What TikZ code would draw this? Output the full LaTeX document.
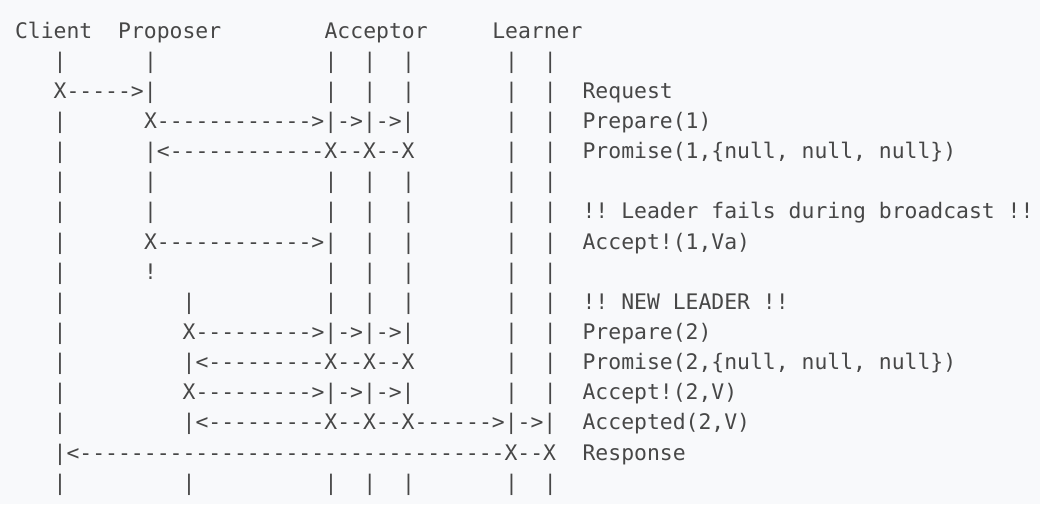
\documentclass[tikz,border=0pt]{standalone}
\usepackage{fontspec}
\setmonofont{DejaVu Sans Mono}
\definecolor{ink}{HTML}{474747}
\definecolor{bgc}{HTML}{F8F9FB}
\tikzset{txt/.style={anchor=base west, inner sep=0pt, outer sep=0pt, text=ink,
  font=\ttfamily\fontsize{21.4}{24}\selectfont}}
\newcommand\frag[3]{\node[txt] (r#2c#1) at ({15+12.9*#1},{-(30.13*(#2-1)+30+8.2)}) {#3};}
\begin{document}
\begin{tikzpicture}[x=1pt,y=1pt]
\fill[bgc] (0,0) rectangle (1040,-504);
\useasboundingbox (0,0) rectangle (1040,-504);
% header
\frag{0}{1}{Client}
\frag{8}{1}{Proposer}
\frag{24}{1}{Acceptor}
\frag{37}{1}{Learner}
% row 2
\foreach \c in {3,10,24,27,30,38,41} {\frag{\c}{2}{|}}
% row 3
\frag{3}{3}{X----->|}
\foreach \c in {24,27,30,38,41} {\frag{\c}{3}{|}}
\frag{44}{3}{Request}
% row 4
\frag{3}{4}{|}
\frag{10}{4}{X------------>|->|->|}
\foreach \c in {38,41} {\frag{\c}{4}{|}}
\frag{44}{4}{Prepare(1)}
% row 5
\frag{3}{5}{|}
\frag{10}{5}{|<------------X--X--X}
\foreach \c in {38,41} {\frag{\c}{5}{|}}
\frag{44}{5}{Promise(1,\{null, null, null\})}
% row 6
\foreach \c in {3,10,24,27,30,38,41} {\frag{\c}{6}{|}}
% row 7
\foreach \c in {3,10,24,27,30,38,41} {\frag{\c}{7}{|}}
\frag{44}{7}{!! Leader fails during broadcast !!}
% row 8
\frag{3}{8}{|}
\frag{10}{8}{X------------>|}
\foreach \c in {27,30,38,41} {\frag{\c}{8}{|}}
\frag{44}{8}{Accept!(1,Va)}
% row 9
\frag{3}{9}{|}
\frag{10}{9}{!}
\foreach \c in {24,27,30,38,41} {\frag{\c}{9}{|}}
% row 10
\foreach \c in {3,13,24,27,30,38,41} {\frag{\c}{10}{|}}
\frag{44}{10}{!! NEW LEADER !!}
% row 11
\frag{3}{11}{|}
\frag{13}{11}{X--------->|->|->|}
\foreach \c in {38,41} {\frag{\c}{11}{|}}
\frag{44}{11}{Prepare(2)}
% row 12
\frag{3}{12}{|}
\frag{13}{12}{|<---------X--X--X}
\foreach \c in {38,41} {\frag{\c}{12}{|}}
\frag{44}{12}{Promise(2,\{null, null, null\})}
% row 13
\frag{3}{13}{|}
\frag{13}{13}{X--------->|->|->|}
\foreach \c in {38,41} {\frag{\c}{13}{|}}
\frag{44}{13}{Accept!(2,V)}
% row 14
\frag{3}{14}{|}
\frag{13}{14}{|<---------X--X--X------>|->|}
\frag{44}{14}{Accepted(2,V)}
% row 15
\frag{3}{15}{|<---------------------------------X--X}
\frag{44}{15}{Response}
% row 16
\foreach \c in {3,13,24,27,30,38,41} {\frag{\c}{16}{|}}
\end{tikzpicture}
\end{document}
